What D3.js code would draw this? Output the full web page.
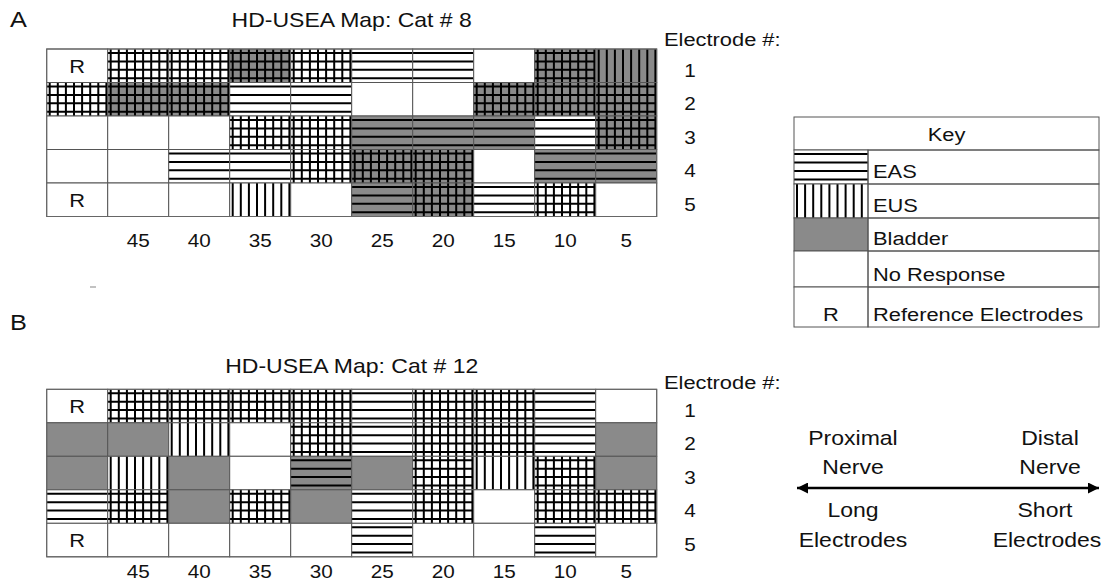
<!DOCTYPE html>
<html>
<head>
<meta charset="utf-8">
<script src="https://cdn.jsdelivr.net/npm/d3@7"></script>
<style>
  body { margin: 0; background: #fff; }
  text { font-family: "Liberation Sans", Arial, sans-serif; fill: #111; }
</style>
</head>
<body>
<svg id="drawing_region"></svg>
<script>
// column numbers (first column holds the reference electrodes, no number)
const colLabels = ["", "45", "40", "35", "30", "25", "20", "15", "10", "5"];
const rowLabels = ["1", "2", "3", "4", "5"];

// cell codes: h = EAS, v = EUS, g = Bladder, "" = no response, R = reference
const cat8 = [
    ["R",  "hv",  "hv",  "ghv", "hv",  "h",   "h",   "",    "ghv", "gv"],
    ["hv", "ghv", "ghv", "h",   "h",   "",    "",    "ghv", "ghv", "ghv"],
    ["",   "",    "",    "hv",  "hv",  "gh",  "gh",  "gh",  "h",   "ghv"],
    ["",   "",    "h",   "h",   "hv",  "ghv", "ghv", "",    "gh",  "gh"],
    ["R",  "",    "",    "v",   "",    "gh",  "ghv", "h",   "hv",  ""]
];
const cat12 = [
    ["R",  "hv",  "hv",  "hv",  "hv",  "h",   "hv",  "hv",  "h",   ""],
    ["g",  "g",   "v",   "",    "hv",  "h",   "hv",  "hv",  "h",   "g"],
    ["g",  "v",   "g",   "",    "gh",  "g",   "hv",  "v",   "hv",  "g"],
    ["h",  "hv",  "g",   "hv",  "g",   "h",   "hv",  "",    "hv",  "hv"],
    ["R",  "",    "",    "",    "",    "h",   "",    "",    "h",   ""]
];

const keyCodes = ["h", "v", "g", "", "R"];
const keyLabels = ["EAS", "EUS", "Bladder", "No Response", "Reference Electrodes"];

const GRAY = "#8a8a8a";
const SX = 1.15;   // figure text is a little wider than plain Arial

const svg = d3.select('#drawing_region')
    .attr('width', 1109)
    .attr('height', 581);

function label( g, str, x, y, size, anchor ) {
    return g.append('text')
        .attr('transform', `translate(${x},${y}) scale(${SX},1)`)
        .attr('font-size', size)
        .attr('text-anchor', anchor || 'start')
        .text(str);
}

// fill, hatch lines and "R" for one selection of cell groups
function paintCells( sel, w, h ) {
    sel.append('rect')
        .attr('width', w)
        .attr('height', h)
        .attr('fill', d => d.code.includes('g') ? GRAY : '#fff');

    sel.selectAll('line.h')
        .data(d => d.code.includes('h') ? d3.range(4) : [])
        .join('line')
        .attr('class', 'h')
        .attr('x1', 0).attr('x2', w)
        .attr('y1', k => 4 + k * h / 4)
        .attr('y2', k => 4 + k * h / 4)
        .attr('stroke', '#000').attr('stroke-width', 2);

    const nv = Math.floor((w - 4) / 8.1) + 1;
    sel.selectAll('line.v')
        .data(d => d.code.includes('v') ? d3.range(nv) : [])
        .join('line')
        .attr('class', 'v')
        .attr('y1', 0).attr('y2', h)
        .attr('x1', k => 3 + k * 8.1)
        .attr('x2', k => 3 + k * 8.1)
        .attr('stroke', '#000').attr('stroke-width', 2);

    sel.filter(d => d.code === 'R')
        .append('text')
        .attr('transform', `translate(${w / 2},${h / 2 + 7}) scale(${SX},1)`)
        .attr('font-size', 19)
        .attr('text-anchor', 'middle')
        .text('R');

    sel.append('rect')
        .attr('width', w)
        .attr('height', h)
        .attr('fill', 'none')
        .attr('stroke', '#555')
        .attr('stroke-width', 1);
}

function drawMap( cfg, rows ) {
    const g = svg.append('g')
        .attr('transform', `translate(${cfg.left},${cfg.top})`);

    const xscale = d3.scaleBand()
        .domain(d3.range(colLabels.length))
        .range([0, cfg.width]);
    const yscale = d3.scaleBand()
        .domain(rowLabels)
        .range([0, cfg.height]);

    const cells = [];
    rows.forEach((r, i) => r.forEach((code, j) => cells.push({ row: rowLabels[i], col: j, code: code })));

    const cell = g.selectAll('g.cell')
        .data(cells)
        .join('g')
        .attr('class', 'cell')
        .attr('transform', d => `translate(${xscale(d.col)},${yscale(d.row)})`);
    paintCells(cell, xscale.bandwidth(), yscale.bandwidth());

    // column numbers
    const xaxis = d3.axisBottom(xscale)
        .tickSize(0)
        .tickPadding(cfg.colPad)
        .tickFormat(i => colLabels[i]);
    const xg = g.append('g')
        .attr('transform', `translate(0,${cfg.height})`)
        .call(xaxis);
    xg.select('.domain').remove();
    xg.selectAll('text')
        .attr('font-size', 18)
        .attr('font-family', '"Liberation Sans", Arial, sans-serif')
        .attr('fill', '#111')
        .attr('transform', `scale(${SX},1)`);

    // electrode numbers
    const yaxis = d3.axisRight(yscale)
        .tickSize(0)
        .tickPadding(0);
    const yg = g.append('g')
        .attr('transform', `translate(${690 - cfg.left},5)`)
        .call(yaxis);
    yg.select('.domain').remove();
    yg.selectAll('text')
        .attr('font-size', 18)
        .attr('font-family', '"Liberation Sans", Arial, sans-serif')
        .attr('fill', '#111')
        .attr('text-anchor', 'middle')
        .attr('transform', `scale(${SX},1)`);

    g.append('rect')
        .attr('width', cfg.width)
        .attr('height', cfg.height)
        .attr('fill', 'none')
        .attr('stroke', '#666');

    label(svg, cfg.letter, 10, cfg.letterY, 22);
    label(svg, cfg.title, cfg.left + cfg.width / 2, cfg.titleY, 20, 'middle');
    label(svg, 'Electrode #:', 664, cfg.elecY, 19);
}

drawMap({ left: 46.7, top: 49, width: 610, height: 167.5, colPad: 18,
          letter: 'A', letterY: 27, title: 'HD-USEA Map: Cat # 8', titleY: 27, elecY: 46 }, cat8);
drawMap({ left: 46.7, top: 389.3, width: 610, height: 167.5, colPad: 8,
          letter: 'B', letterY: 330, title: 'HD-USEA Map: Cat # 12', titleY: 373, elecY: 389 }, cat12);

// Key table
const key = { left: 794, top: 117, width: 305, swatch: 74, headH: 33 };
const keyRowH = [34, 34, 33, 36, 40];
const keyY = [];
keyRowH.reduce((acc, h) => { keyY.push(acc); return acc + h; }, key.top + key.headH);

const kg = svg.append('g');
kg.append('rect')
    .attr('x', key.left).attr('y', key.top)
    .attr('width', key.width).attr('height', key.headH)
    .attr('fill', '#fff').attr('stroke', '#555');
label(kg, 'Key', key.left + key.width / 2, key.top + 24, 19, 'middle');

const krow = kg.selectAll('g.krow')
    .data(keyCodes.map((c, i) => ({ code: c, name: keyLabels[i], y: keyY[i], h: keyRowH[i] })))
    .join('g')
    .attr('class', 'krow')
    .attr('transform', d => `translate(${key.left},${d.y})`);
krow.each(function(d) {
    const sw = d3.select(this).append('g').datum(d);
    if (d.code === 'R') {
        sw.append('rect').attr('width', key.swatch).attr('height', d.h)
            .attr('fill', '#fff').attr('stroke', '#555');
        label(sw, 'R', key.swatch / 2, d.h - 6, 19, 'middle');
    } else {
        paintCells(sw, key.swatch, d.h);
    }
    d3.select(this).append('rect')
        .attr('x', key.swatch).attr('width', key.width - key.swatch).attr('height', d.h)
        .attr('fill', 'none').attr('stroke', '#555');
    label(d3.select(this), d.name, key.swatch + 5, d.h - 6, 19);
});

// proximal / distal arrow
svg.append('defs').append('marker')
    .attr('id', 'head')
    .attr('viewBox', '0 0 10 10')
    .attr('refX', 10).attr('refY', 5)
    .attr('markerUnits', 'userSpaceOnUse')
    .attr('markerWidth', 13).attr('markerHeight', 11)
    .attr('orient', 'auto-start-reverse')
    .append('path')
    .attr('d', 'M0,0 L10,5 L0,10 Z')
    .attr('fill', '#000');

svg.append('line')
    .attr('x1', 797).attr('x2', 1099)
    .attr('y1', 488).attr('y2', 488)
    .attr('stroke', '#000').attr('stroke-width', 2.5)
    .attr('marker-start', 'url(#head)')
    .attr('marker-end', 'url(#head)');

label(svg, 'Proximal', 853, 445, 20, 'middle');
label(svg, 'Nerve', 853, 474, 20, 'middle');
label(svg, 'Long', 853, 517, 20, 'middle');
label(svg, 'Electrodes', 853, 547, 20, 'middle');
label(svg, 'Distal', 1050, 445, 20, 'middle');
label(svg, 'Nerve', 1050, 474, 20, 'middle');
label(svg, 'Short', 1045, 517, 20, 'middle');
label(svg, 'Electrodes', 1047, 547, 20, 'middle');

// stray mark under panel A
svg.append('line')
    .attr('x1', 90).attr('x2', 96).attr('y1', 287).attr('y2', 287)
    .attr('stroke', '#999').attr('stroke-width', 1.2);
</script>
</body>
</html>
